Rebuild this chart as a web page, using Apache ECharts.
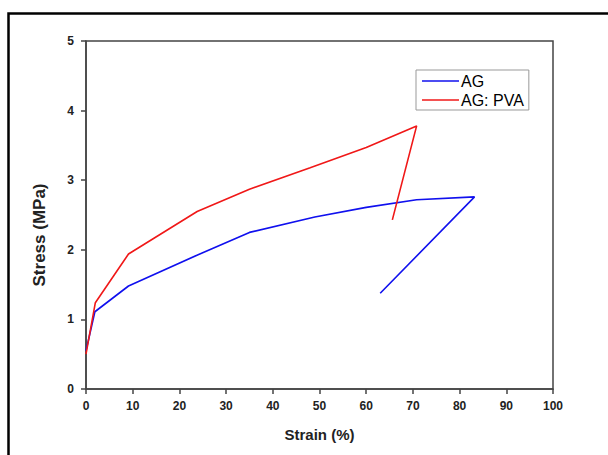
<!DOCTYPE html>
<html>
<head>
<meta charset="utf-8">
<script src="https://cdn.jsdelivr.net/npm/echarts@6/dist/echarts.min.js"></script>
<style>html,body{margin:0;padding:0;background:#fff;}#c{width:608px;height:455px;}</style>
</head>
<body>
<div id="c"></div>
<script>
var seriesNames = ['AG', 'AG: PVA'];
var strainAG = [0, 1.9, 9.1, 24, 35, 49, 60, 70.8, 83.2, 63.0];
var stressAG = [0.55, 1.11, 1.48, 1.93, 2.25, 2.47, 2.61, 2.72, 2.76, 1.375];
var strainPVA = [0, 2.0, 9.1, 23.8, 35, 48, 60, 70.8, 65.6];
var stressPVA = [0.5, 1.24, 1.94, 2.55, 2.87, 3.18, 3.47, 3.78, 2.43];
var xTicks = [0, 10, 20, 30, 40, 50, 60, 70, 80, 90, 100];
var yTicks = [0, 1, 2, 3, 4, 5];

function pairs(xs, ys) { return xs.map(function (x, i) { return [x, ys[i]]; }); }

var chart = echarts.init(document.getElementById('c'), null, {renderer: 'svg'});
var axisCol = '#444';
var ff = 'Liberation Sans, Arial, sans-serif';
chart.setOption({
  animation: false,
  backgroundColor: '#fff',
  graphic: [{
    type: 'rect', left: 6, top: 11, silent: true,
    shape: {width: 700, height: 500},
    style: {fill: 'none', stroke: '#000', lineWidth: 2.5}
  }],
  grid: {left: 86, right: 55, top: 41, bottom: 66, show: true, borderColor: axisCol, borderWidth: 1.5, backgroundColor: 'transparent'},
  legend: {
    orient: 'vertical', left: 416, top: 70,
    data: seriesNames,
    icon: 'rect', itemWidth: 37, itemHeight: 1.5, itemGap: 3,
    padding: [3, 5, 2, 6],
    borderColor: '#999', borderWidth: 1,
    textStyle: {fontFamily: ff, fontSize: 16, color: '#000', padding: [0, 0, 0, -3], width: 70}
  },
  xAxis: {
    type: 'value', min: xTicks[0], max: xTicks[xTicks.length - 1], interval: 10,
    name: 'Strain (%)', nameLocation: 'middle', nameGap: 38,
    nameTextStyle: {fontFamily: ff, fontWeight: 'bold', fontSize: 15, color: '#222'},
    axisLine: {show: true, onZero: false, lineStyle: {color: axisCol, width: 1.5}},
    axisTick: {show: true, inside: false, length: 5, lineStyle: {color: axisCol, width: 1.5}},
    axisLabel: {fontFamily: ff, fontWeight: 'bold', fontSize: 12, color: '#222', margin: 11},
    splitLine: {show: false}
  },
  yAxis: {
    type: 'value', min: yTicks[0], max: yTicks[yTicks.length - 1], interval: 1,
    name: 'Stress (MPa)', nameLocation: 'middle', nameGap: 38, nameRotate: 90,
    nameTextStyle: {fontFamily: ff, fontWeight: 'bold', fontSize: 17, color: '#222', padding: [0, 40, 0, 0]},
    axisLine: {show: true, onZero: false, lineStyle: {color: axisCol, width: 1.5}},
    axisTick: {show: true, inside: false, length: 5, lineStyle: {color: axisCol, width: 1.5}},
    axisLabel: {fontFamily: ff, fontWeight: 'bold', fontSize: 12, color: '#222', margin: 12},
    splitLine: {show: false}
  },
  series: [
    {name: seriesNames[0], type: 'line', data: pairs(strainAG, stressAG), showSymbol: false, symbol: 'none',
     lineStyle: {color: '#1010ee', width: 1.6}, itemStyle: {color: '#1010ee'}},
    {name: seriesNames[1], type: 'line', data: pairs(strainPVA, stressPVA), showSymbol: false, symbol: 'none',
     lineStyle: {color: '#f01818', width: 1.6}, itemStyle: {color: '#f01818'}}
  ]
});
</script>
</body>
</html>
